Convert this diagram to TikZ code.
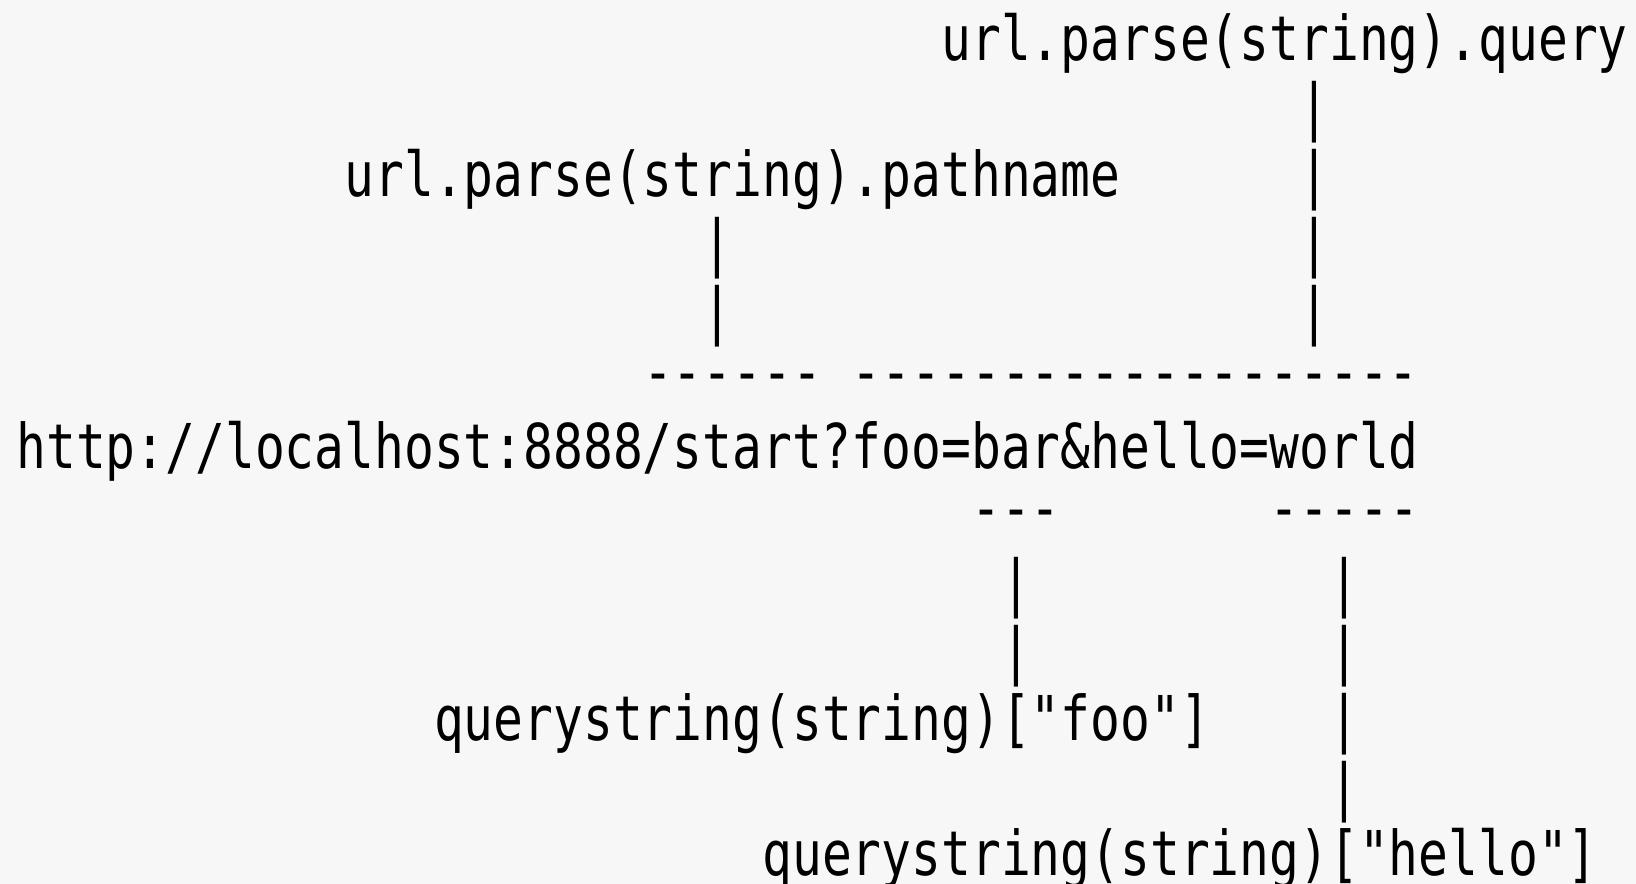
\documentclass[tikz,border=0pt]{standalone}
\usepackage{fontspec}
\setmonofont[FakeStretch=0.8022]{DejaVu Sans Mono}
\definecolor{paper}{RGB}{247,247,247}
\tikzset{ascii/.style={anchor=base west, inner sep=0pt, font=\ttfamily\fontsize{17.58pt}{20pt}\selectfont}}

\begin{document}
\begin{tikzpicture}[x=0.2984cm, y=-0.68cm]
    \fill[paper] (-0.5245,-0.8824) rectangle (54.301,12.1176);
    \useasboundingbox (-0.5245,-0.8824) rectangle (54.301,12.1176);

    % labels above the url
    \node[ascii] (query)    at (31,0) {url.parse(string).query};
    \node[ascii] (qbar1)    at (43,1) {|};
    \node[ascii] (pathname) at (11,2) {url.parse(string).pathname};
    \node[ascii] (qbar2)    at (43,2) {|};
    \node[ascii] (pbar1)    at (23,3) {|};
    \node[ascii] (qbar3)    at (43,3) {|};
    \node[ascii] (pbar2)    at (23,4) {|};
    \node[ascii] (qbar4)    at (43,4) {|};
    \node[ascii] (pathdash) at (21,4.9) {------};
    \node[ascii] (querydash) at (28,4.9) {-------------------};

    % the url itself
    \node[ascii] (url) at (0,6) {http://localhost:8888/start?foo=bar\&hello=world};

    % labels below the url
    \node[ascii] (foodash)   at (32,6.9) {---};
    \node[ascii] (hellodash) at (42,6.9) {-----};
    \node[ascii] (fbar1) at (33,8) {|};
    \node[ascii] (hbar1) at (44,8) {|};
    \node[ascii] (fbar2) at (33,9) {|};
    \node[ascii] (hbar2) at (44,9) {|};
    \node[ascii] (foo)   at (14,10) {querystring(string)["foo"]};
    \node[ascii] (hbar3) at (44,10) {|};
    \node[ascii] (hbar4) at (44,11) {|};
    \node[ascii] (hello) at (25,12) {querystring(string)["hello"]};
\end{tikzpicture}
\end{document}
